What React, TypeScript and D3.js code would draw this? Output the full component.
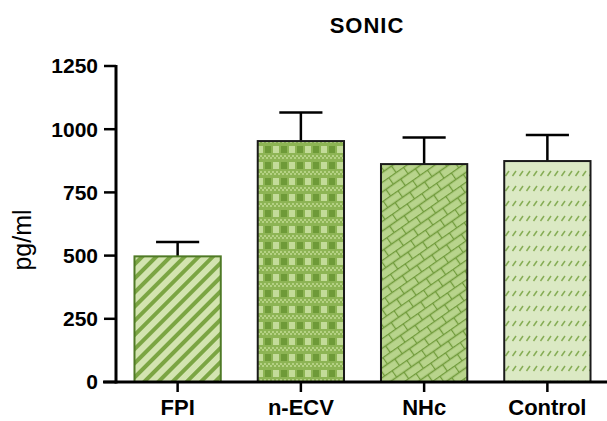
import React from 'react';
import * as d3 from 'd3';

// chart values
const categories = ['FPI', 'n-ECV', 'NHc', 'Control'];
const means = [497, 953, 862, 874];
const errors = [57, 113, 105, 103];
const yTicks = [0, 250, 500, 750, 1000, 1250];
const patternIds = ['pFPI', 'pNECV', 'pNHC', 'pCTRL'];

const W = 607;
const H = 421;
const margin = { top: 66, right: -2, bottom: 39, left: 116 };
const FONT = "'Liberation Sans', Arial, sans-serif";

const App = () => {
  const x = d3.scaleBand<string>()
    .domain(categories)
    .range([margin.left, W - margin.right])
    .paddingInner(0.3)
    .paddingOuter(0.15);

  const y = d3.scaleLinear()
    .domain([0, 1250])
    .range([H - margin.bottom, margin.top]);

  const base = y(0);
  const bw = x.bandwidth();

  return (
    <svg width={W} height={H} style={{ position: 'absolute', left: 0, top: 0, background: '#fff' }}>
      <defs>
        {/* FPI: diagonal stripes */}
        <pattern id="pFPI" width="10" height="10" patternUnits="userSpaceOnUse" patternTransform="rotate(45)">
          <rect width="10" height="10" fill="#d3e4b0" />
          <rect width="4" height="10" fill="#7ba543" />
        </pattern>
        {/* n-ECV: checks */}
        <pattern id="pNECV" width="16" height="16" patternUnits="userSpaceOnUse">
          <rect width="16" height="16" fill="#8db454" />
          <rect x="1" y="2" width="6" height="7" fill="#c3db99" />
          <rect x="9" y="2" width="6" height="7" fill="#6e9a38" />
          <rect x="0" y="11" width="2" height="2" fill="#b5d184" />
          <rect x="4" y="11" width="2" height="2" fill="#b5d184" />
          <rect x="8" y="11" width="2" height="2" fill="#b5d184" />
          <rect x="12" y="11" width="2" height="2" fill="#b5d184" />
          <rect x="2" y="13" width="2" height="2" fill="#b5d184" />
          <rect x="6" y="13" width="2" height="2" fill="#b5d184" />
          <rect x="10" y="13" width="2" height="2" fill="#b5d184" />
          <rect x="14" y="13" width="2" height="2" fill="#b5d184" />
        </pattern>
        {/* NHc: diagonal bricks */}
        <pattern id="pNHC" width="18" height="16" patternUnits="userSpaceOnUse" patternTransform="rotate(-35)">
          <rect width="18" height="16" fill="#b8d48c" />
          <path d="M0,0.5H18M0,8.5H18M0.5,0V8M9.5,8V16" stroke="#6f9a3a" strokeWidth="1.3" fill="none" />
        </pattern>
        {/* Control: short dashes in rows */}
        <pattern id="pCTRL" width="7" height="15" patternUnits="userSpaceOnUse">
          <rect width="7" height="15" fill="#dbe9c4" />
          <path d="M1.5,11 L5,6" stroke="#86ad55" strokeWidth="1.5" />
        </pattern>
      </defs>

      {/* title */}
      <text x={367} y={33} textAnchor="middle" fontFamily={FONT} fontWeight="bold" fontSize={22} letterSpacing={1}>SONIC</text>

      {/* y label */}
      <text
        transform={`translate(31,240) rotate(-90)`}
        textAnchor="middle"
        fontFamily={FONT}
        fontSize={25}
      >pg/ml</text>

      {/* bars */}
      {categories.map((c, i) => {
        const x0 = x(c)!;
        const top = y(means[i]);
        const errTop = y(means[i] + errors[i]);
        const cx = x0 + bw / 2;
        return (
          <g key={c}>
            <line x1={cx} x2={cx} y1={top} y2={errTop} stroke="#000" strokeWidth={2.5} />
            <line x1={cx - bw / 4} x2={cx + bw / 4} y1={errTop} y2={errTop} stroke="#000" strokeWidth={2.5} />
            <rect
              x={x0}
              y={top}
              width={bw}
              height={base - top}
              fill={`url(#${patternIds[i]})`}
              stroke={i === 0 ? '#4f7a26' : '#1a1a1a'}
              strokeWidth={2}
            />
          </g>
        );
      })}

      {/* y axis */}
      <line x1={margin.left} x2={margin.left} y1={margin.top - 1} y2={base + 1.5} stroke="#000" strokeWidth={3} />
      {yTicks.map(t => (
        <g key={t} transform={`translate(0,${y(t)})`}>
          <line x1={margin.left - 12} x2={margin.left} stroke="#000" strokeWidth={2.5} />
          <text x={margin.left - 18} dy="0.35em" textAnchor="end" fontFamily={FONT} fontWeight="bold" fontSize={21}>{t}</text>
        </g>
      ))}

      {/* x axis */}
      <line x1={103} x2={W} y1={base} y2={base} stroke="#000" strokeWidth={3} />
      {categories.map(c => {
        const cx = x(c)! + bw / 2;
        return (
          <g key={c} transform={`translate(${cx},${base})`}>
            <line y1={0} y2={10} stroke="#000" strokeWidth={2.5} />
            <text y={33} textAnchor="middle" fontFamily={FONT} fontWeight="bold" fontSize={22}>{c}</text>
          </g>
        );
      })}
    </svg>
  );
};

export default App;
